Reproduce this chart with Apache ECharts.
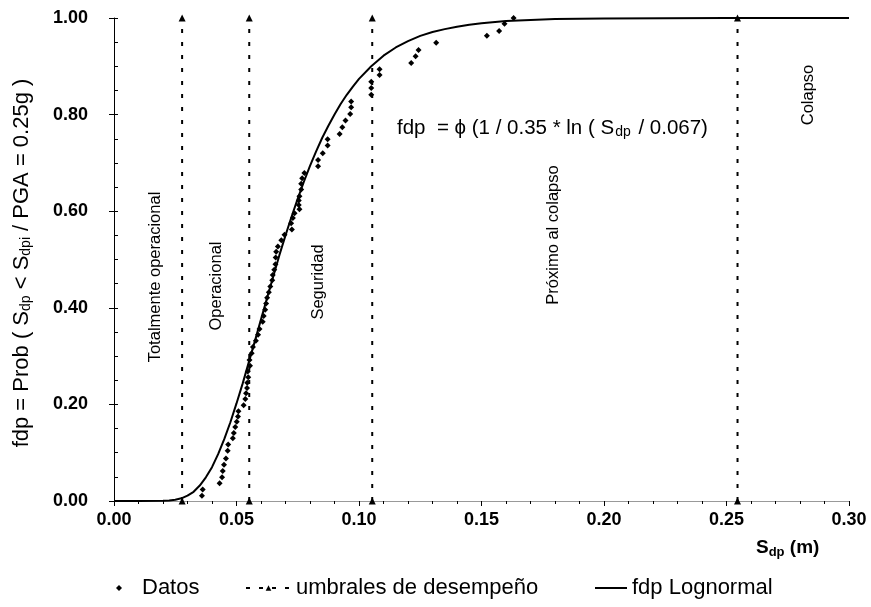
<!DOCTYPE html>
<html><head><meta charset="utf-8">
<script src="https://cdn.jsdelivr.net/npm/echarts@6/dist/echarts.min.js"></script>
<style>html,body{margin:0;padding:0;background:#fff}#c{width:871px;height:607px}</style>
</head><body><div id="c"></div>
<script>
// Datos (empirical points)
const datosX = [0.0359,0.0362,0.0431,0.0441,0.0444,0.0449,0.0457,0.0464,0.0466,0.0485,0.0489,0.0495,0.0501,0.0506,0.0508,0.0529,0.0536,0.0539,0.0543,0.0544,0.0548,0.0546,0.0555,0.0553,0.0562,0.0567,0.0579,0.0588,0.0594,0.0607,0.0611,0.0617,0.0621,0.0625,0.0632,0.0638,0.0646,0.0648,0.0654,0.0659,0.0660,0.0662,0.0669,0.0683,0.0696,0.0726,0.0723,0.0730,0.0737,0.0757,0.0754,0.0754,0.0757,0.0764,0.0764,0.0768,0.0777,0.0833,0.0833,0.0852,0.0872,0.0872,0.0921,0.0932,0.0945,0.0964,0.0968,0.0968,0.1050,0.1050,0.1050,0.1084,0.1084,0.1213,0.1231,0.1243,0.1315,0.1522,0.1572,0.1594,0.1631];
const datosY = [0.011,0.024,0.037,0.049,0.062,0.075,0.088,0.104,0.117,0.130,0.141,0.153,0.164,0.175,0.186,0.198,0.211,0.223,0.234,0.245,0.256,0.268,0.280,0.292,0.306,0.319,0.332,0.344,0.356,0.371,0.383,0.396,0.409,0.421,0.432,0.444,0.457,0.468,0.479,0.490,0.504,0.516,0.527,0.540,0.551,0.562,0.575,0.586,0.596,0.604,0.613,0.622,0.631,0.645,0.657,0.668,0.679,0.693,0.706,0.720,0.736,0.749,0.760,0.774,0.788,0.801,0.815,0.827,0.841,0.855,0.868,0.882,0.894,0.907,0.921,0.934,0.949,0.963,0.973,0.988,1.000];
// fdp Lognormal curve
const curveX = [0,0.01,0.02,0.0225,0.025,0.0275,0.03,0.0325,0.035,0.0375,0.04,0.0425,0.045,0.0475,0.05,0.0525,0.055,0.0575,0.06,0.0625,0.065,0.0675,0.07,0.0725,0.075,0.0775,0.08,0.0825,0.085,0.0875,0.09,0.0925,0.095,0.0975,0.10,0.105,0.11,0.115,0.12,0.125,0.13,0.135,0.14,0.145,0.15,0.16,0.17,0.18,0.20,0.25,0.30];
const curveY = [0,0,0.0003,0.0009,0.0024,0.0055,0.011,0.019,0.032,0.049,0.070,0.097,0.128,0.163,0.202,0.243,0.287,0.331,0.376,0.421,0.465,0.509,0.550,0.589,0.626,0.661,0.694,0.724,0.752,0.777,0.800,0.822,0.841,0.858,0.874,0.900,0.922,0.939,0.952,0.963,0.971,0.977,0.982,0.986,0.989,0.994,0.996,0.998,0.999,1.0,1.0];
// umbrales de desempeño
const umbrales = [0.0278,0.0552,0.1054,0.2545];
const regionLabels = ['Totalmente operacional','Operacional','Seguridad','Próximo al colapso','Colapso'];

const chart = echarts.init(document.getElementById('c'), null, {renderer:'canvas'});
const F = "'Liberation Sans', Arial, sans-serif";

const series = [];
umbrales.forEach((u)=>{
  series.push({
    name:'umbrales de desempeño', type:'line', clip:false, z:1,
    data:[[u,0],[u,1]], symbol:'triangle', symbolSize:7, showSymbol:true,
    lineStyle:{color:'#000', width:2, type:[4,9]}, itemStyle:{color:'#000'}
  });
});
series.push({
  name:'Datos', type:'scatter', z:3, symbol:'diamond', symbolSize:6,
  itemStyle:{color:'#000', opacity:1},
  data: datosX.map((x,i)=>[x,datosY[i]])
});
series.push({
  name:'fdp Lognormal', type:'line', z:2, symbol:'none', smooth:false,
  lineStyle:{color:'#000', width:2}, itemStyle:{color:'#000'},
  data: curveX.map((x,i)=>[x,curveY[i]])
});

const regionPos = [[155,277],[216,286],[318,282],[553,235],[808,95]];
const graphics = regionLabels.map((t,i)=>({
  type:'text', x:regionPos[i][0], y:regionPos[i][1], rotation:Math.PI/2,
  style:{text:t, font:"16.5px "+F, fill:'#000', align:'center', verticalAlign:'middle'}
}));
graphics.push({
  type:'text', x:22, y:263, rotation:Math.PI/2,
  style:{
    text:'fdp = Prob ( S{s|dp} < S{s|dpi} / PGA = 0.25g )',
    font:"22px "+F, fill:'#000', align:'center', verticalAlign:'middle',
    rich:{s:{fontSize:14, fontFamily:F, padding:[9,0,0,0]}}
  }
});
graphics.push({
  type:'text', x:397, y:128,
  style:{
    text:'fdp  = \u03d5 (1 / 0.35 * ln ( S{s|dp} / 0.067)',
    font:"20.5px "+F, fill:'#000', align:'left', verticalAlign:'middle',
    rich:{s:{fontSize:14, fontFamily:F, padding:[8,2,0,1]}}
  }
});
graphics.push({
  type:'text', x:756, y:548,
  style:{
    text:'S{s|dp} (m)',
    font:"bold 19px "+F, fill:'#000', align:'left', verticalAlign:'middle',
    rich:{s:{fontSize:13, fontWeight:'bold', fontFamily:F, padding:[8,0,0,0]}}
  }
});

const legTxt = {fontSize:22, fontFamily:F, color:'#000'};
chart.setOption({
  backgroundColor:'#fff',
  animation:false,
  grid:{left:114, right:22, top:18, bottom:106, containLabel:false},
  legend:[
    {data:[{name:'Datos', icon:'diamond'}], left:111, top:572, itemWidth:6, itemHeight:6, textStyle:Object.assign({padding:[0,0,0,15]}, legTxt)},
    {data:['umbrales de desempeño'], left:240, top:572, itemWidth:45, itemHeight:7, textStyle:legTxt},
    {data:[{name:'fdp Lognormal', icon:'rect'}], left:590, top:572, itemWidth:32, itemHeight:2, textStyle:legTxt}
  ],
  xAxis:[
    {type:'value', min:0, max:0.3, interval:0.05, position:'bottom',
     axisLine:{lineStyle:{color:'#000', width:1}},
     axisTick:{show:true, length:5, lineStyle:{color:'#000'}},
     minorTick:{show:true, splitNumber:5, length:3, lineStyle:{color:'#000'}},
     splitLine:{show:false},
     axisLabel:{formatter:v=>v.toFixed(2), color:'#000', fontFamily:F, fontWeight:'bold', fontSize:18, margin:10}},
    {type:'value', min:0, max:0.3, position:'top',
     axisLine:{show:true, lineStyle:{color:'#999', width:1}},
     axisTick:{show:false}, axisLabel:{show:false}, splitLine:{show:false}}
  ],
  yAxis:[
    {type:'value', min:0, max:1, interval:0.2, position:'left',
     axisLine:{show:true, lineStyle:{color:'#000', width:1}},
     axisTick:{show:true, length:5, lineStyle:{color:'#000'}},
     splitLine:{show:false},
     axisLabel:{formatter:v=>v.toFixed(2), color:'#000', fontFamily:F, fontWeight:'bold', fontSize:18, margin:26}},
    {type:'value', min:0, max:1, interval:0.05, position:'left',
     axisLine:{show:false}, axisTick:{show:true, inside:true, length:4, lineStyle:{color:'#000'}},
     axisLabel:{show:false}, splitLine:{show:false}}
  ],
  series: series,
  graphic: graphics
});
</script></body></html>
